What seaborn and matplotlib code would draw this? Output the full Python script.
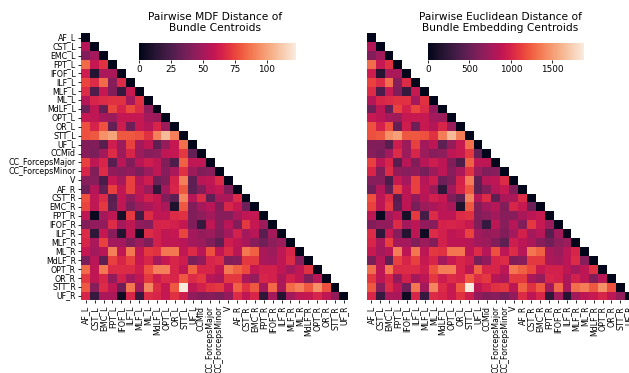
import numpy as np
import pandas as pd
import matplotlib
matplotlib.use("Agg")
import matplotlib.pyplot as plt
import seaborn as sns

bundles = ["AF_L", "CST_L", "EMC_L", "FPT_L", "IFOF_L", "ILF_L", "MLF_L", "ML_L",
           "MdLF_L", "OPT_L", "OR_L", "STT_L", "UF_L", "CCMid", "CC_ForcepsMajor",
           "CC_ForcepsMinor", "V", "AF_R", "CST_R", "EMC_R", "FPT_R", "IFOF_R",
           "ILF_R", "MLF_R", "ML_R", "MdLF_R", "OPT_R", "OR_R", "STT_R", "UF_R"]

# lower-triangle rows (row i has i values, diagonal = 0)
mdf_rows = [
    [],
    [55],
    [40, 50],
    [85, 60, 70],
    [62, 12, 52, 52],
    [75, 68, 85, 42, 68],
    [68, 25, 60, 40, 18, 60],
    [55, 66, 68, 70, 70, 50, 70],
    [35, 58, 32, 75, 65, 76, 68, 45],
    [60, 58, 50, 48, 60, 60, 60, 50, 48],
    [78, 65, 78, 32, 62, 35, 60, 55, 66, 48],
    [78, 80, 95, 100, 80, 80, 78, 70, 90, 108, 90],
    [40, 40, 28, 62, 48, 74, 50, 58, 30, 46, 60, 86],
    [42, 38, 50, 68, 48, 66, 48, 42, 44, 58, 60, 72, 32],
    [74, 58, 66, 28, 56, 40, 56, 62, 58, 40, 25, 82, 58, 58],
    [66, 40, 68, 45, 42, 45, 38, 48, 58, 42, 52, 70, 48, 40, 42],
    [42, 42, 24, 60, 50, 74, 55, 62, 35, 40, 65, 90, 30, 56, 58, 68],
    [35, 55, 32, 74, 58, 74, 58, 48, 15, 50, 66, 80, 30, 40, 56, 60, 40],
    [78, 58, 68, 28, 58, 45, 56, 64, 60, 40, 30, 92, 56, 68, 30, 52, 52, 68],
    [75, 58, 72, 30, 58, 38, 48, 52, 58, 52, 10, 80, 40, 50, 56, 40, 66, 60, 35],
    [58, 3, 50, 58, 8, 72, 22, 68, 58, 58, 68, 70, 40, 44, 50, 42, 42, 52, 58, 60],
    [40, 45, 45, 68, 50, 58, 45, 42, 65, 66, 64, 60, 40, 18, 58, 42, 56, 40, 72, 60, 48],
    [68, 15, 60, 42, 12, 58, 5, 68, 64, 58, 60, 75, 50, 46, 48, 40, 50, 64, 50, 56, 28, 50],
    [66, 52, 74, 50, 50, 40, 48, 40, 64, 58, 58, 56, 50, 48, 40, 30, 62, 58, 52, 42, 36, 44, 48],
    [60, 50, 56, 90, 58, 88, 58, 72, 70, 88, 88, 58, 68, 56, 78, 58, 68, 56, 88, 82, 52, 48, 58, 66],
    [38, 56, 30, 74, 66, 74, 60, 66, 50, 60, 66, 62, 38, 45, 66, 68, 40, 42, 72, 72, 52, 50, 58, 68, 42],
    [85, 58, 88, 68, 68, 68, 62, 78, 90, 90, 66, 58, 82, 66, 66, 58, 88, 82, 76, 60, 64, 64, 58, 50, 58, 70],
    [72, 58, 66, 45, 64, 50, 58, 72, 62, 68, 66, 80, 68, 72, 56, 52, 72, 72, 52, 46, 66, 64, 52, 64, 58, 40, 56],
    [80, 42, 68, 58, 35, 88, 50, 92, 68, 60, 80, 123, 58, 64, 70, 72, 58, 82, 70, 80, 50, 84, 52, 85, 90, 80, 95, 78],
    [66, 18, 52, 52, 5, 66, 18, 68, 66, 60, 70, 62, 45, 40, 42, 38, 45, 68, 58, 66, 15, 50, 12, 50, 58, 60, 66, 58, 45],
]

euc_rows = [
    [],
    [840],
    [610, 760],
    [1300, 920, 1070],
    [950, 180, 790, 790],
    [1140, 1040, 1300, 640, 1040],
    [1040, 380, 920, 610, 270, 920],
    [840, 1010, 1040, 1070, 1070, 760, 1070],
    [530, 880, 490, 1140, 990, 1160, 1040, 690],
    [920, 880, 760, 730, 920, 920, 920, 760, 730],
    [1190, 990, 1190, 490, 950, 530, 920, 840, 1010, 730],
    [1190, 1220, 1450, 1520, 1220, 1220, 1190, 1070, 1370, 1650, 1370],
    [610, 610, 430, 950, 730, 1130, 760, 880, 460, 700, 920, 1310],
    [640, 580, 760, 1040, 730, 1010, 730, 640, 670, 880, 920, 1100, 490],
    [1130, 880, 1010, 430, 850, 610, 850, 950, 880, 610, 380, 1250, 880, 880],
    [1010, 610, 1040, 690, 640, 690, 580, 730, 880, 640, 790, 1070, 730, 610, 640],
    [640, 640, 370, 920, 760, 1130, 840, 950, 530, 610, 990, 1370, 460, 850, 880, 1040],
    [530, 840, 490, 1130, 880, 1130, 880, 730, 230, 760, 1010, 1220, 460, 610, 850, 920, 610],
    [1190, 880, 1040, 430, 880, 690, 850, 980, 920, 610, 460, 1400, 850, 1040, 460, 790, 790, 1040],
    [1140, 880, 1100, 460, 880, 580, 730, 790, 880, 790, 150, 1220, 610, 760, 850, 610, 1010, 920, 530],
    [880, 50, 760, 880, 120, 1100, 340, 1040, 880, 880, 1040, 1070, 610, 670, 760, 640, 640, 790, 880, 920],
    [610, 690, 690, 1040, 760, 880, 690, 640, 990, 1010, 980, 920, 610, 270, 880, 640, 850, 610, 1100, 920, 730],
    [1040, 230, 920, 640, 180, 880, 80, 1040, 980, 880, 920, 1140, 760, 700, 730, 610, 760, 980, 760, 850, 430, 760],
    [1010, 790, 1130, 760, 760, 610, 730, 610, 980, 880, 880, 850, 760, 730, 610, 460, 950, 880, 790, 640, 550, 670, 730],
    [920, 760, 850, 1370, 880, 1340, 880, 1100, 1070, 1340, 1340, 880, 1040, 850, 1190, 880, 1040, 850, 1340, 1250, 790, 730, 880, 1010],
    [580, 850, 460, 1130, 1010, 1130, 920, 1010, 760, 920, 1010, 950, 580, 690, 1010, 1040, 610, 640, 1100, 1100, 790, 760, 880, 1040, 640],
    [1300, 880, 1340, 1040, 1040, 1040, 950, 1190, 1370, 1370, 1010, 880, 1250, 1010, 1010, 880, 1340, 1250, 1160, 920, 980, 980, 880, 760, 880, 1070],
    [1100, 880, 1010, 690, 980, 760, 880, 1100, 950, 1040, 1010, 1220, 1040, 1100, 850, 790, 1100, 1100, 790, 700, 1010, 980, 790, 980, 880, 610, 850],
    [1220, 640, 1040, 880, 530, 1340, 760, 1400, 1040, 920, 1220, 1880, 880, 980, 1070, 1100, 880, 1250, 1070, 1220, 760, 1280, 790, 1300, 1370, 1220, 1450, 1190],
    [1010, 270, 790, 790, 80, 1010, 270, 1040, 1010, 920, 1070, 950, 690, 610, 640, 580, 690, 1040, 880, 1010, 230, 760, 180, 760, 880, 920, 1010, 880, 690],
]

titles = ["Pairwise MDF Distance of\nBundle Centroids",
          "Pairwise Euclidean Distance of\nBundle Embedding Centroids"]


def to_frame(rows):
    n = len(bundles)
    m = np.zeros((n, n))
    for i, r in enumerate(rows):
        assert len(r) == i, (i, len(r))
        for j, v in enumerate(r):
            m[i, j] = v
            m[j, i] = v
    return pd.DataFrame(m, index=bundles, columns=bundles)


plt.rcParams["font.family"] = ["DejaVu Sans"]
fig = plt.figure(figsize=(6.29, 3.73), dpi=100)

mask = np.triu(np.ones((len(bundles), len(bundles)), dtype=bool), k=1)

ax_pos = [[0.1293, 0.1946, 0.4245, 0.716], [0.583, 0.1946, 0.4245, 0.716]]
cax_pos = [[0.2215, 0.8391, 0.2491, 0.0448], [0.680, 0.8391, 0.2485, 0.0448]]

for k, (rows, title) in enumerate(zip([mdf_rows, euc_rows], titles)):
    ax = fig.add_axes(ax_pos[k])
    cax = fig.add_axes(cax_pos[k])
    df = to_frame(rows)
    sns.heatmap(df, mask=mask, cmap="rocket", ax=ax, cbar_ax=cax,
                cbar_kws={"orientation": "horizontal"},
                xticklabels=True, yticklabels=(k == 0))
    ax.set_title(title, fontsize=7.7, pad=1)
    ax.tick_params(axis="both", labelsize=5.7, length=2.5, width=0.6, pad=1.5)
    ax.set_xticklabels(ax.get_xticklabels(), rotation=90)
    if k == 0:
        ax.set_yticklabels(ax.get_yticklabels(), rotation=0)
    else:
        ax.tick_params(axis="y", left=False)
    cax.tick_params(labelsize=6.4, length=2, width=0.6, pad=1.5)

fig.savefig("out.png", dpi=100)
